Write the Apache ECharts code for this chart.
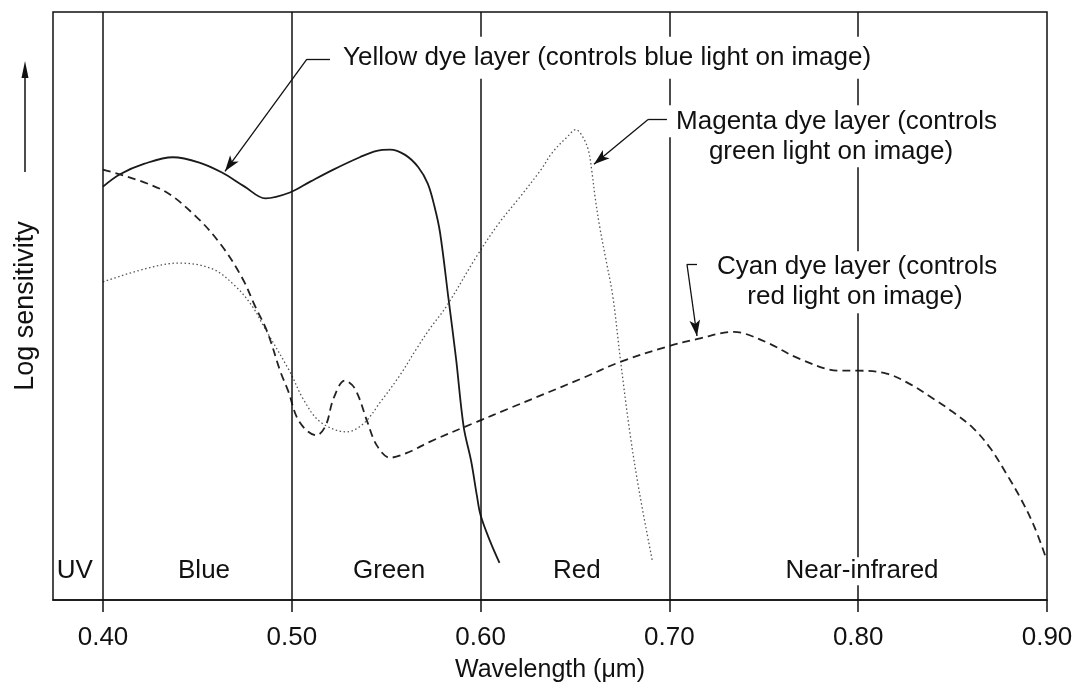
<!DOCTYPE html>
<html>
<head>
<meta charset="utf-8">
<script src="https://cdn.jsdelivr.net/npm/echarts@6/dist/echarts.min.js"></script>
<style>
  html, body { margin: 0; padding: 0; background: #fff; }
  #chart { width: 1087px; height: 688px; }
</style>
</head>
<body>
<div id="chart"></div>
<script>
// wavelength in µm, sensitivity in arbitrary log units (0..100)
const wavelengthTicks = [0.40, 0.50, 0.60, 0.70, 0.80, 0.90];
const bandEdges = [0.40, 0.50, 0.60, 0.70, 0.80];
const bandNames = ['UV', 'Blue', 'Green', 'Red', 'Near-infrared'];
const bandCenters = [0.385, 0.4535, 0.5515, 0.651, 0.802];

const yellowDye = [
  [0.400, 70.3], [0.409, 72.4], [0.422, 74.2], [0.437, 75.3], [0.451, 74.4],
  [0.463, 72.7], [0.475, 70.3], [0.486, 68.3], [0.499, 69.3], [0.510, 71.2],
  [0.522, 73.2], [0.536, 75.3], [0.545, 76.4], [0.552, 76.6], [0.560, 75.7],
  [0.567, 73.6], [0.572, 70.8], [0.5755, 67.0], [0.5785, 62.5], [0.583, 51.2],
  [0.587, 41.0], [0.591, 29.5], [0.595, 23.6], [0.598, 17.8], [0.600, 14.4],
  [0.605, 10.0], [0.610, 6.3]
];
const magentaDye = [
  [0.400, 54.1], [0.422, 56.3], [0.440, 57.3], [0.458, 56.3], [0.470, 53.4],
  [0.479, 50.0], [0.485, 46.6], [0.499, 38.8], [0.506, 34.2], [0.515, 30.3],
  [0.529, 28.6], [0.538, 30.0], [0.547, 33.7], [0.557, 38.1], [0.566, 42.7],
  [0.573, 46.1], [0.582, 50.0], [0.598, 58.5], [0.610, 64.2], [0.621, 68.6],
  [0.632, 73.2], [0.638, 76.1], [0.646, 78.8], [0.6505, 80.0], [0.654, 78.8],
  [0.657, 76.6], [0.659, 72.7], [0.6606, 68.6], [0.663, 63.6], [0.666, 58.5],
  [0.670, 51.7], [0.674, 41.0], [0.679, 28.6], [0.684, 18.5], [0.691, 6.6]
];
const cyanDye = [
  [0.400, 73.2], [0.431, 69.8], [0.449, 65.3], [0.463, 60.2], [0.474, 54.6],
  [0.4805, 50.0], [0.487, 45.6], [0.494, 38.8], [0.498, 35.6], [0.504, 30.3],
  [0.513, 28.0], [0.518, 29.7], [0.522, 34.2], [0.528, 37.3], [0.5335, 35.9],
  [0.540, 30.3], [0.545, 26.3], [0.552, 24.2], [0.563, 25.3], [0.573, 26.9],
  [0.598, 30.3], [0.6145, 32.5], [0.653, 37.6], [0.674, 40.5], [0.699, 43.1],
  [0.715, 44.4], [0.734, 45.6], [0.740, 45.3], [0.753, 43.6], [0.769, 41.0],
  [0.790, 39.0], [0.800, 39.0], [0.815, 38.5], [0.827, 36.8], [0.840, 34.2],
  [0.850, 32.0], [0.861, 29.2], [0.870, 25.8], [0.879, 21.2], [0.886, 17.3],
  [0.893, 12.7], [0.899, 7.6]
];

// callout text lines and where they sit (second lines listed first so the
// first line's descenders are drawn on top)
const noteLines = [
  'green light on image)',
  'red light on image)',
  'Yellow dye layer (controls blue light on image)',
  'Magenta dye layer (controls',
  'Cyan dye layer (controls'
];
const noteAt = [[0.7856, 76.3], [0.7983, 51.5], [0.5229, 92.2], [0.7885, 81.4], [0.7994, 56.6]];
// leaders: elbow, end of short tick, arrow tip
const leaderElbow = [[0.508, 92.0], [0.6887, 81.7], [0.7093, 57.1]];
const leaderTick = [[0.5202, 92.0], [0.6987, 81.7], [0.7146, 57.1]];
const leaderTip = [[0.4646, 72.9], [0.660, 74.1], [0.7146, 44.9]];
const bandLabelY = 4.9;

const ink = '#111';
const font = 'Liberation Sans, Arial, sans-serif';

const chart = echarts.init(document.getElementById('chart'));

const leaders = [];
leaderElbow.forEach((p, i) => {
  leaders.push([{ coord: p }, { coord: leaderTick[i] }]);
  leaders.push([
    { coord: p, symbol: 'none' },
    { coord: leaderTip[i], symbol: 'arrow', symbolSize: [8, 16] }
  ]);
});

const notePoints = noteLines.map((t, i) => ({
  value: noteAt[i],
  label: t.startsWith('Yellow')
    ? { position: 'right', distance: 0, align: 'left', padding: [6, 8], lineHeight: 30 }
    : { position: 'inside', align: 'center' },
  text: t
}));
const bandPoints = bandNames.map((n, i) => ({
  value: [bandCenters[i], bandLabelY],
  label: { position: 'inside', align: 'center', padding: [1, 2], lineHeight: 26 },
  text: n
}));

chart.setOption({
  animation: false,
  backgroundColor: '#fff',
  textStyle: { fontFamily: font },
  grid: {
    left: 53, right: 40, top: 12, bottom: 86,
    show: true, borderColor: ink, borderWidth: 1.5
  },
  xAxis: {
    type: 'value',
    min: 0.3735,
    max: 0.9,
    name: 'Wavelength (μm)',
    nameLocation: 'middle',
    nameGap: 58,
    nameTextStyle: { fontSize: 25, color: ink, fontFamily: font },
    splitLine: { show: false },
    axisLine: { lineStyle: { color: ink, width: 1.5 } },
    axisTick: { customValues: wavelengthTicks, length: 12, lineStyle: { color: ink, width: 1.5 } },
    axisLabel: {
      customValues: wavelengthTicks,
      formatter: v => v.toFixed(2),
      fontSize: 26, color: ink, margin: 25, fontFamily: font
    }
  },
  yAxis: {
    type: 'value',
    min: 0,
    max: 100,
    name: 'Log sensitivity',
    nameLocation: 'middle',
    nameGap: 14,
    nameRotate: 90,
    nameTextStyle: { fontSize: 27, color: ink, fontFamily: font },
    axisLine: { show: false },
    axisTick: { show: false },
    axisLabel: { show: false },
    splitLine: { show: false }
  },
  graphic: [
    { type: 'line', shape: { x1: 25, y1: 172, x2: 25, y2: 74 }, style: { stroke: ink, lineWidth: 1.5 } },
    { type: 'polygon', shape: { points: [[25, 61], [21.5, 78], [28.5, 78]] }, style: { fill: ink } }
  ],
  series: [
    {
      name: 'bands',
      type: 'line',
      data: [],
      z: 1,
      markLine: {
        silent: true,
        symbol: ['none', 'none'],
        label: { show: false },
        lineStyle: { color: ink, width: 1.5, type: 'solid' },
        data: bandEdges.map(x => ({ xAxis: x }))
      }
    },
    {
      name: 'Yellow dye layer',
      type: 'line',
      data: yellowDye,
      smooth: 0.35,
      showSymbol: false,
      z: 3,
      lineStyle: { color: '#1a1a1a', width: 1.8 }
    },
    {
      name: 'Magenta dye layer',
      type: 'line',
      data: magentaDye,
      smooth: 0.35,
      showSymbol: false,
      z: 3,
      lineStyle: { color: '#555', width: 1.3, type: [1.5, 2.5] }
    },
    {
      name: 'Cyan dye layer',
      type: 'line',
      data: cyanDye,
      smooth: 0.35,
      showSymbol: false,
      z: 3,
      lineStyle: { color: '#222', width: 1.8, type: [8, 5] }
    },
    {
      name: 'notes',
      type: 'scatter',
      symbolSize: 0,
      z: 5,
      silent: true,
      itemStyle: { opacity: 1 },
      data: notePoints.concat(bandPoints),
      label: {
        show: true,
        formatter: p => p.data.text,
        fontSize: 26,
        lineHeight: 28,
        color: ink,
        opacity: 1,
        fontFamily: font,
        backgroundColor: '#fff',
        padding: [2, 8]
      },
      markLine: {
        silent: true,
        symbol: ['none', 'none'],
        label: { show: false },
        lineStyle: { color: ink, width: 1.3, type: 'solid' },
        data: leaders
      }
    }
  ]
});
</script>
</body>
</html>
